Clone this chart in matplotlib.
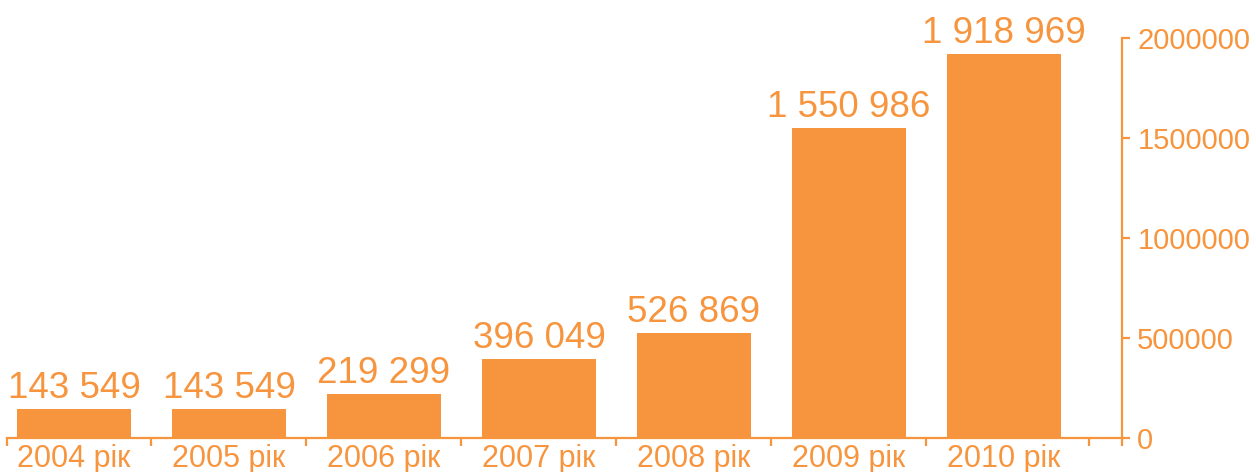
import matplotlib
matplotlib.use("Agg")
import matplotlib.pyplot as plt

years = ["2004 рік", "2005 рік", "2006 рік", "2007 рік", "2008 рік", "2009 рік", "2010 рік"]
values = [143549, 143549, 219299, 396049, 526869, 1550986, 1918969]
yticks = [0, 500000, 1000000, 1500000, 2000000]

color = "#F7953F"
plt.rcParams['font.family'] = ['Liberation Sans', 'DejaVu Sans']

W, H = 1256, 472
fig = plt.figure(figsize=(W / 100, H / 100), dpi=100)
left_px, right_px, top_px, bottom_px = 7, 1122, 38.3, 438
ax = fig.add_axes([left_px / W, (H - bottom_px) / H,
                   (right_px - left_px) / W, (bottom_px - top_px) / H])

x = list(range(len(years)))
ax.bar(x, values, width=0.735, color=color, zorder=2)

x0 = (left_px - 74) / 155
x1 = (right_px - 74) / 155
ax.set_xlim(x0, x1)
ax.set_ylim(0, 2000000)

for xi, v in zip(x, values):
    lab = f"{v:,}".replace(",", " ")
    ax.annotate(lab, (xi, v), xytext=(0, 8), textcoords="offset points",
                ha="center", va="baseline", fontsize=26.5, color=color)

# spines
for s in ["top", "left"]:
    ax.spines[s].set_visible(False)
for s in ["bottom", "right"]:
    ax.spines[s].set_color(color)
    ax.spines[s].set_linewidth(1.6)

ax.yaxis.tick_right()
ax.set_yticks(yticks)
ax.set_yticklabels([str(t) for t in yticks])
ax.tick_params(axis="y", colors=color, labelcolor=color, labelsize=21,
               length=6, width=1.6, pad=5, direction="out")

ax.set_xticks(x)
ax.set_xticklabels(years)
ax.tick_params(axis="x", which="major", length=0, pad=4.5, labelsize=22,
               labelcolor=color)
minor = [x0] + [i + 0.5 for i in range(6)] + [(1089 - 74) / 155, x1]
ax.set_xticks(minor, minor=True)
ax.tick_params(axis="x", which="minor", length=5.5, width=1.6, color=color,
               direction="out")

fig.savefig("out.png", dpi=100)
